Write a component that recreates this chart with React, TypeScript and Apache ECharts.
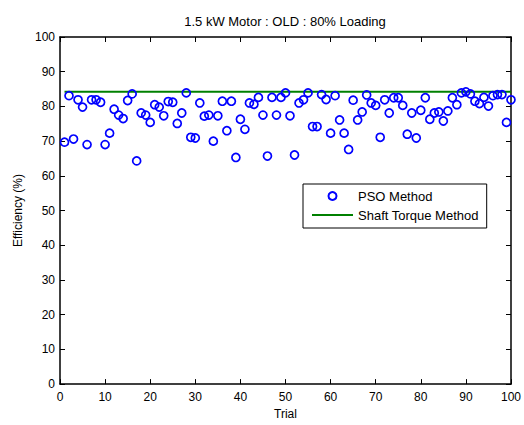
import React, { useEffect, useRef } from "react";
import * as echarts from "echarts";

const trials: number[] = Array.from({ length: 100 }, (_, i) => i + 1);
const psoEfficiency: number[] = [
  69.7, 83.1, 70.6, 81.9, 79.8, 69.0, 81.9, 81.9, 81.2, 69.0,
  72.3, 79.2, 77.5, 76.5, 81.7, 83.6, 64.3, 78.1, 77.5, 75.4,
  80.5, 79.8, 77.3, 81.4, 81.2, 75.1, 78.1, 83.9, 71.1, 70.9,
  81.0, 77.2, 77.5, 70.0, 77.3, 81.5, 73.0, 81.5, 65.3, 76.3,
  73.4, 81.0, 80.6, 82.6, 77.5, 65.7, 82.6, 77.5, 82.6, 83.9,
  77.3, 66.0, 81.0, 81.9, 83.9, 74.2, 74.2, 83.4, 82.0, 72.3,
  83.1, 76.1, 72.3, 67.6, 81.8, 76.1, 78.4, 83.3, 81.0, 80.3,
  71.1, 81.9, 78.1, 82.5, 82.5, 80.3, 72.0, 78.1, 70.9, 78.9,
  82.5, 76.3, 78.1, 78.4, 75.8, 78.7, 82.5, 80.5, 83.9, 84.2,
  83.6, 81.5, 80.8, 82.6, 80.1, 83.1, 83.4, 83.4, 75.4, 81.9,
];
const shaftTorqueTrials: number[] = [1, 100];
const shaftTorqueEfficiency: number[] = [84.2, 84.2];
const xTicks = { min: 0, max: 100, interval: 10 };
const yTicks = { min: 0, max: 100, interval: 10 };

const FONT = "'Liberation Sans', Arial, Helvetica, sans-serif";

export default function App() {
  const ref = useRef<HTMLDivElement>(null);
  useEffect(() => {
    if (!ref.current) return;
    const chart = echarts.init(ref.current, undefined, { renderer: "svg" });
    const axisCommon = {
      type: "value" as const,
      axisLine: { show: true, onZero: false, lineStyle: { color: "#000", width: 1.5 } },
      axisTick: { show: true, inside: true, length: 5, lineStyle: { color: "#000", width: 1 } },
      splitLine: { show: false },
    };
    chart.setOption({
      animation: false,
      backgroundColor: "#fff",
      textStyle: { fontFamily: FONT },
      grid: { left: 60, top: 37, right: 11, bottom: 33 },
      graphic: [
        {
          type: "text",
          x: 285,
          y: 21,
          style: {
            text: "1.5 kW Motor : OLD : 80% Loading",
            font: `13px ${FONT}`,
            fill: "#000",
            align: "center",
            verticalAlign: "middle",
          },
        },
      ],
      legend: {
        orient: "vertical",
        left: 303,
        top: 184,
        padding: [5, 8, 6, 9],
        itemGap: 5,
        itemWidth: 41,
        itemHeight: 8,
        borderColor: "#000",
        borderWidth: 1,
        borderRadius: 0,
        backgroundColor: "#fff",
        textStyle: { fontSize: 13, color: "#000", fontFamily: FONT, lineHeight: 14 },
        data: [
          { name: "PSO Method" },
          {
            name: "Shaft Torque Method",
            icon: "path://M0,0L41,0L41,2L0,2Z",
            itemStyle: { color: "#008000" },
          },
        ],
      },
      xAxis: [
        {
          ...axisCommon,
          ...xTicks,
          position: "bottom",
          name: "Trial",
          nameLocation: "middle",
          nameGap: 22,
          nameTextStyle: { fontSize: 12, color: "#000", fontFamily: FONT },
          axisLabel: { fontSize: 12, color: "#000", margin: 7, fontFamily: FONT },
        },
        {
          ...axisCommon,
          ...xTicks,
          position: "top",
          axisLabel: { show: false },
        },
      ],
      yAxis: [
        {
          ...axisCommon,
          ...yTicks,
          position: "left",
          name: "Efficiency (%)",
          nameLocation: "middle",
          nameGap: 36,
          nameTextStyle: { fontSize: 12, color: "#000", fontFamily: FONT },
          axisLabel: { fontSize: 12, color: "#000", margin: 5, fontFamily: FONT },
        },
        {
          ...axisCommon,
          ...yTicks,
          position: "right",
          axisLabel: { show: false },
        },
      ],
      series: [
        {
          name: "PSO Method",
          type: "scatter",
          symbol: "circle",
          symbolSize: 8,
          itemStyle: { color: "none", borderColor: "#0000ff", borderWidth: 1.7, opacity: 1 },
          data: trials.map((t, i) => [t, psoEfficiency[i]]),
          z: 3,
        },
        {
          name: "Shaft Torque Method",
          type: "line",
          symbol: "none",
          lineStyle: { color: "#008000", width: 2 },
          itemStyle: { color: "#008000" },
          data: shaftTorqueTrials.map((t, i) => [t, shaftTorqueEfficiency[i]]),
          z: 2,
        },
      ],
    });
    return () => chart.dispose();
  }, []);
  return (
    <div
      ref={ref}
      style={{ position: "absolute", left: 0, top: 0, width: 524, height: 425 }}
    />
  );
}
